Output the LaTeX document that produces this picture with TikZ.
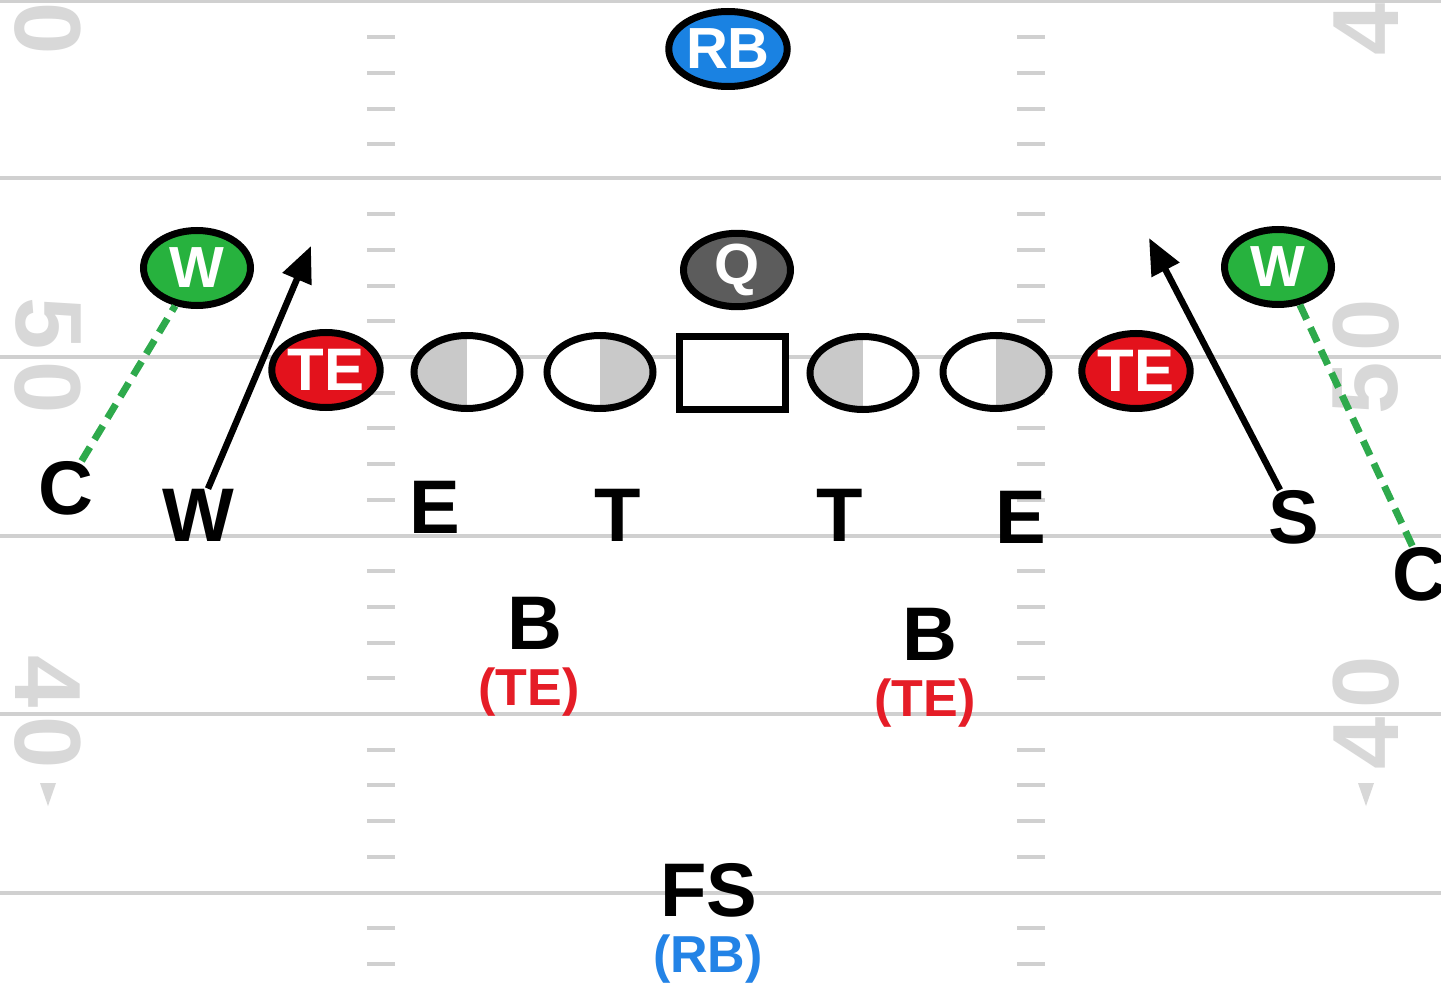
\documentclass[tikz,border=0pt]{standalone}
\usepackage{fontspec}
\setmainfont{Liberation Sans}
\usetikzlibrary{shapes.geometric,arrows.meta}
\definecolor{fieldline}{HTML}{D0D0D0}
\definecolor{numgray}{HTML}{D8D8D8}
\definecolor{pgreen}{HTML}{27B23E}
\definecolor{pred}{HTML}{E3121C}
\definecolor{pblue}{HTML}{1A82E2}
\definecolor{pgray}{HTML}{5C5C5C}
\definecolor{halfgray}{HTML}{C9C9C9}
\definecolor{dashgreen}{HTML}{2EAA4C}
\definecolor{labred}{HTML}{E51D27}
\definecolor{labblue}{HTML}{2383E6}
\begin{document}
\begin{tikzpicture}[x=1pt,y=-1pt,
 yard/.style={draw=fieldline,line width=4pt},
 hashmk/.style={draw=fieldline,line width=4pt},
 fieldnum/.style={text=numgray,font=\fontsize{94}{94}\selectfont\bfseries,inner sep=0pt},
 player/.style={ellipse,draw=black,line width=7pt,minimum width=107pt,minimum height=75pt,inner sep=0pt,text=white,font=\fontsize{58}{58}\selectfont\bfseries},
 lineman/.style={ellipse,draw=black,line width=7pt,fill=white,minimum width=106pt,minimum height=73pt,inner sep=0pt},
 graylefthalf/.style={path picture={\fill[halfgray] (path picture bounding box.south west) rectangle (path picture bounding box.north);}},
 grayrighthalf/.style={path picture={\fill[halfgray] (path picture bounding box.south) rectangle (path picture bounding box.north east);}},
 centerbox/.style={rectangle,draw=black,line width=7pt,fill=white,minimum width=106pt,minimum height=73pt,inner sep=0pt},
 poslabel/.style={font=\fontsize{76}{76}\selectfont\bfseries,text=black,inner sep=0pt},
 sublabel/.style={font=\fontsize{52}{52}\selectfont\bfseries,inner sep=0pt},
 route/.style={draw=black,line width=6.5pt,-{Triangle[length=36pt,width=30pt]}},
 coverline/.style={draw=dashgreen,line width=7pt,dash pattern=on 16pt off 9pt}
]
\useasboundingbox (0,0) rectangle (1441,987);
\fill[white] (0,0) rectangle (1441,987);
% yard lines
\foreach \b in {1.5,178.5,357,535.5,714,892.5} {
  \draw[yard] (0,\b) -- (1441,\b);
  \foreach \k in {1,2,3,4} {
    \draw[hashmk] (367,{\b+35.7*\k}) -- (395,{\b+35.7*\k});
    \draw[hashmk] (1017,{\b+35.7*\k}) -- (1045,{\b+35.7*\k});
  }
}
% field numbers
\node[fieldnum,rotate=-90] (nl1) at (48,29) {0};
\node[fieldnum,rotate=-90] (nl2) at (48,324) {5};
\node[fieldnum,rotate=-90] (nl3) at (48,388) {0};
\node[fieldnum,rotate=-90] (nl4) at (48,682) {4};
\node[fieldnum,rotate=-90] (nl5) at (48,743) {0};
\node[fieldnum,rotate=90] (nr1) at (1366,29) {4};
\node[fieldnum,rotate=90] (nr2) at (1366,325) {0};
\node[fieldnum,rotate=90] (nr3) at (1366,388) {5};
\node[fieldnum,rotate=90] (nr4) at (1366,682) {0};
\node[fieldnum,rotate=90] (nr5) at (1366,743) {4};
\fill[numgray] (40,783) -- (56,783) -- (48,806) -- cycle;
\fill[numgray] (1358,783) -- (1374,783) -- (1366,806) -- cycle;
% players
\node[player,fill=pblue] (rb) at (728,49) {RB};
\node[player,fill=pgray,minimum height=70pt] (q) at (737,270) {Q};
\node[player,fill=pgreen] (wl) at (197,268) {W};
\node[player,fill=pgreen] (wr) at (1278,267) {W};
\node[player,fill=pred,font=\fontsize{60}{60}\selectfont\bfseries] (tel) at (326,370) {TE};
\node[player,fill=pred,font=\fontsize{60}{60}\selectfont\bfseries] (ter) at (1136,371) {TE};
\node[lineman,graylefthalf] (l1) at (467,372) {};
\node[lineman,grayrighthalf] (l2) at (600,372) {};
\node[centerbox] (c) at (732,373) {};
\node[lineman,graylefthalf] (l3) at (863,373) {};
\node[lineman,grayrighthalf] (l4) at (996,372) {};
% labels
\node[poslabel] (cl) at (66,488) {C};
\node[poslabel] (wlab) at (198,515) {W};
\node[poslabel] (el) at (435,507) {E};
\node[poslabel] (tl) at (618,515) {T};
\node[poslabel] (tr) at (840,515) {T};
\node[poslabel] (er) at (1021,517) {E};
\node[poslabel] (s) at (1294,517) {S};
\node[poslabel] (cr) at (1420,574) {C};
\node[poslabel] (bl) at (535,623) {B};
\node[sublabel,text=labred] (bltl) at (529,692) {(TE)};
\node[poslabel] (br) at (930,634) {B};
\node[sublabel,text=labred] (brtl) at (925,703) {(TE)};
\node[poslabel] (fs) at (709,890) {FS};
\node[sublabel,text=labblue] (fsrb) at (708,959) {(RB)};
% connectors
\coordinate (wlend) at (311,246);
\coordinate (send) at (1149,238);
\draw[route] ([xshift=10pt]wlab.north) -- (wlend);
\draw[route] ([xshift=-14pt]s.north) -- (send);
\draw[coverline] (cl.60) -- (wl.240);
\draw[coverline] (wr.300) -- (cr.105);
\end{tikzpicture}
\end{document}
